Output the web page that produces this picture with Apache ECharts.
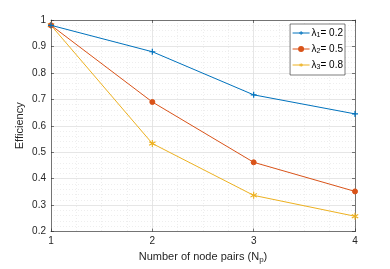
<!DOCTYPE html>
<html><head><meta charset="utf-8">
<script src="https://cdn.jsdelivr.net/npm/echarts@6/dist/echarts.min.js"></script>
<style>html,body{margin:0;padding:0;background:#fff}#c{width:390px;height:269px}</style>
</head><body><div id="c"></div>
<script>
const nodePairs = [1, 2, 3, 4];
const eff1 = [0.98, 0.88, 0.717, 0.645];
const eff2 = [0.98, 0.69, 0.462, 0.352];
const eff3 = [0.98, 0.533, 0.337, 0.258];
const seriesNames = ['λ1 = 0.2', 'λ2 = 0.5', 'λ3 = 0.8'];
const subs = ['1', '2', '3'];
const vals = ['0.2', '0.5', '0.8'];
const colors = ['#0072BD', '#D95319', '#EDB120'];
const symbols = [
  'path://M4,0 L6,0 L6,4 L10,4 L10,6 L6,6 L6,10 L4,10 L4,6 L0,6 L0,4 L4,4 Z',
  'circle',
  'path://M4.3,0 L5.7,0 L5.7,3.3 L8.6,1.6 L9.3,2.8 L6.4,4.5 L9.3,6.2 L8.6,7.4 L5.7,5.7 L5.7,9 L4.3,9 L4.3,5.7 L1.4,7.4 L0.7,6.2 L3.6,4.5 L0.7,2.8 L1.4,1.6 L4.3,3.3 Z'
];
const symbolSizes = [6, 5, 7];
const allData = [eff1, eff2, eff3];
const font = 'Liberation Sans, Arial, sans-serif';
const chart = echarts.init(document.getElementById('c'));
const textColor = '#262626';
const axisCommon = {
  axisLine: {show: true, lineStyle: {color: '#262626', width: 0.6}},
  axisTick: {show: true, inside: true, length: 3, lineStyle: {color: '#262626', width: 0.6}},
  splitLine: {show: true, lineStyle: {color: '#e0e0e0', width: 0.8}},
  minorSplitLine: {show: true, lineStyle: {color: '#e2e2e2', width: 0.6, type: [1, 2]}},
};
chart.setOption({
  animation: false,
  backgroundColor: '#fff',
  grid: {left: 51, right: 35, top: 20, bottom: 34, show: false},
  legend: {
    right: 45, top: 24, orient: 'vertical', itemGap: 5,
    itemWidth: 17, itemHeight: 5,
    lineStyle: {width: 1},
    borderColor: '#262626', borderWidth: 0.6, backgroundColor: '#fff', borderRadius: 0,
    padding: [4, 2, 4, 2],
    data: seriesNames,
    formatter: function (n) {
      const i = seriesNames.indexOf(n);
      return '{a|λ}{s|' + subs[i] + '}{a|= ' + vals[i] + '}';
    },
    textStyle: {
      fontFamily: font, fontSize: 10, color: '#000', padding: [0, 0, 0, -3],
      rich: {
        a: {fontFamily: font, fontSize: 10, color: '#000'},
        s: {fontFamily: font, fontSize: 7, color: '#000', verticalAlign: 'bottom', padding: [5, 0, 0, 0]}
      }
    }
  },
  xAxis: [{
    type: 'value', min: 1, max: 4, interval: 1, position: 'bottom',
    name: '{a|Number of node pairs (N}{s|p}{a|)}', nameLocation: 'middle', nameGap: 17,
    nameTextStyle: {
      fontFamily: font, fontSize: 11, color: textColor,
      rich: {
        a: {fontFamily: font, fontSize: 11, color: textColor},
        s: {fontFamily: font, fontSize: 8, color: textColor, verticalAlign: 'bottom', padding: [6, 0, 0, 0]}
      }
    },
    axisLabel: {fontFamily: font, fontSize: 10, color: textColor, margin: 5},
    minorTick: {show: false, splitNumber: 4},
    ...axisCommon
  }, {
    type: 'value', min: 1, max: 4, interval: 1, position: 'top',
    axisLine: {show: true, lineStyle: {color: '#262626', width: 0.6}},
    axisTick: {show: true, inside: true, length: 3, lineStyle: {color: '#262626', width: 0.6}},
    axisLabel: {show: false}, splitLine: {show: false}
  }],
  yAxis: [{
    type: 'value', min: 0.2, max: 1, interval: 0.1, position: 'left',
    name: 'Efficiency', nameLocation: 'middle', nameGap: 26, nameMoveOverlap: false,
    nameTextStyle: {fontFamily: font, fontSize: 11, color: textColor},
    axisLabel: {fontFamily: font, fontSize: 10, color: textColor, margin: 5},
    minorTick: {show: false, splitNumber: 5},
    ...axisCommon
  }, {
    type: 'value', min: 0.2, max: 1, interval: 0.1, position: 'right',
    axisLine: {show: true, lineStyle: {color: '#262626', width: 0.6}},
    axisTick: {show: true, inside: true, length: 3, lineStyle: {color: '#262626', width: 0.6}},
    axisLabel: {show: false}, splitLine: {show: false}
  }],
  series: allData.map(function (d, i) {
    return {
      name: seriesNames[i], type: 'line',
      data: nodePairs.map(function (x, j) { return [x, d[j]]; }),
      symbol: symbols[i], symbolSize: symbolSizes[i], showSymbol: true,
      lineStyle: {color: colors[i], width: 1},
      itemStyle: {color: colors[i], borderColor: colors[i], borderWidth: i === 1 ? 1 : 0},
      z: 3 - i
    };
  })
});
</script></body></html>
